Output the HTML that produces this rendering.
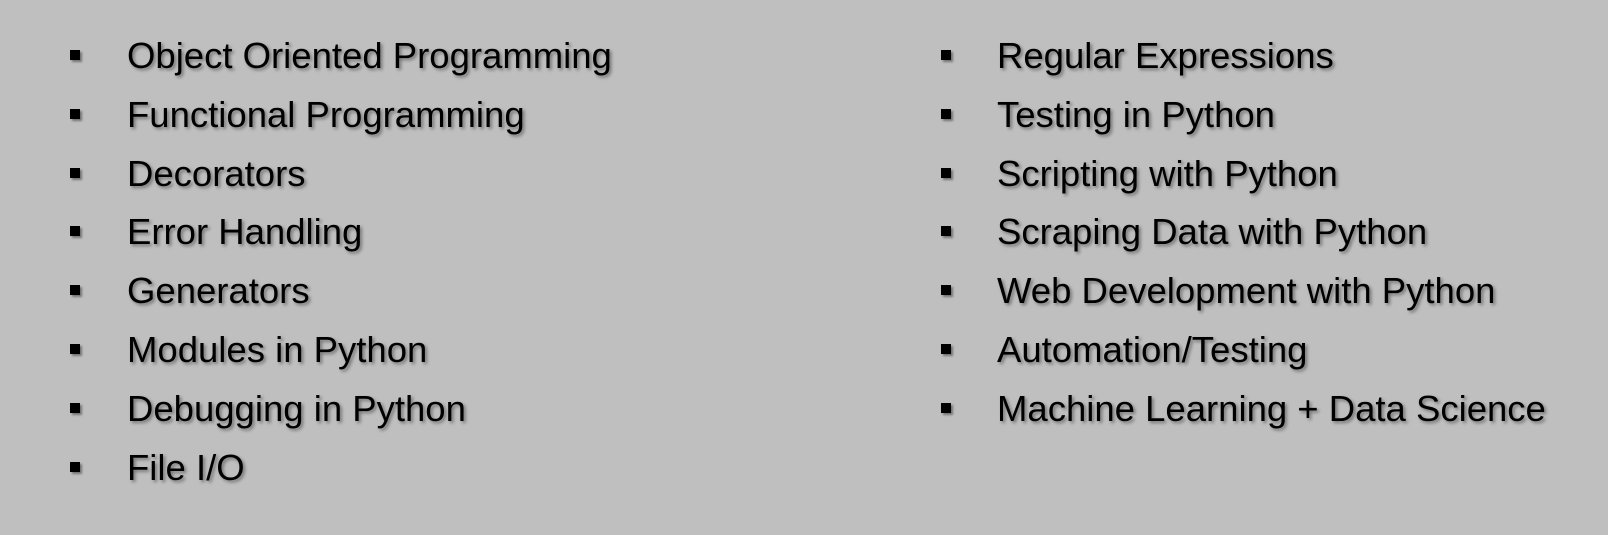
<!DOCTYPE html>
<html><head><meta charset="utf-8"><style>
body{margin:0;width:1608px;height:535px;background:#bfbfbf;overflow:hidden;position:relative;font-family:"Liberation Sans",sans-serif;}
.item{position:absolute;height:40px;line-height:40px;font-size:36.5px;color:#000;white-space:nowrap;text-shadow:2px 2px 3px rgba(0,0,0,0.4);}
.b{position:absolute;width:10px;height:10px;background:#000;box-shadow:2px 2px 2px rgba(0,0,0,0.4);}
</style></head><body>
<div id="root"></div>
<script>
const leftItems=["Object Oriented Programming","Functional Programming","Decorators","Error Handling","Generators","Modules in Python","Debugging in Python","File I/O"];
const rightItems=["Regular Expressions","Testing in Python","Scripting with Python","Scraping Data with Python","Web Development with Python","Automation/Testing","Machine Learning + Data Science"];
const root=document.getElementById('root');
function col(items,bx,tx,name){
  items.forEach((t,i)=>{
    const cy=56+i*58.8;
    const b=document.createElement('div');b.className='b';
    
    
    b.style.left=bx+'px';b.style.top=(cy-6)+'px';root.appendChild(b);
    const d=document.createElement('div');d.className='item';d.textContent=t;
    
    
    d.style.left=tx+'px';d.style.top=(cy-20)+'px';root.appendChild(d);
  });
}
col(leftItems,70,127,'left');
col(rightItems,941,997,'right');
</script>
</body></html>
